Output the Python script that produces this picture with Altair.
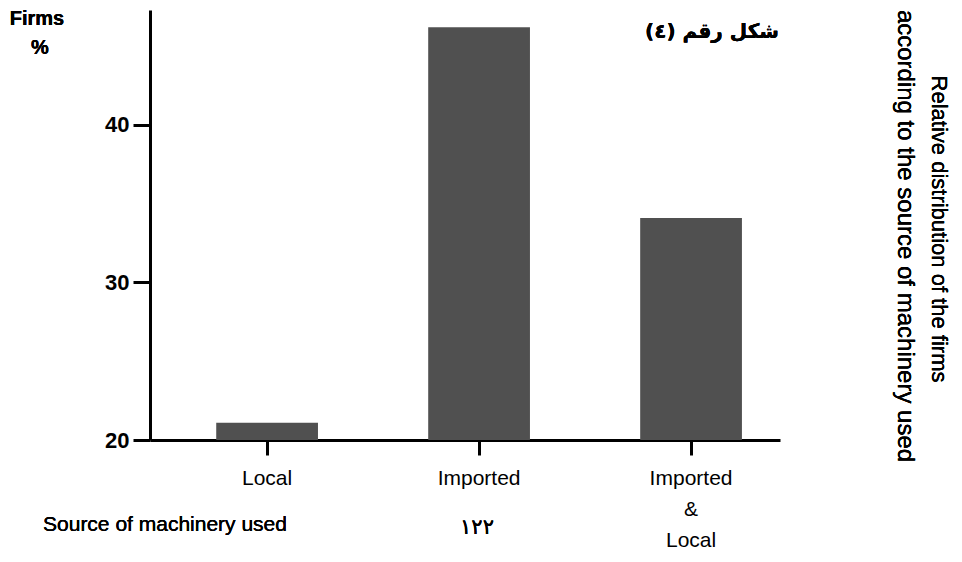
import altair as alt
import pandas as pd

categories = ["Local", "Imported", "Imported & Local"]
values = [21.1, 46.2, 34.1]
y_ticks = [20, 30, 40]

df = pd.DataFrame({"source": categories, "pct": values})

FONT = "Liberation Sans"

bars = alt.Chart(df).mark_bar(color="#505050").encode(
    x=alt.X(
        "source:N",
        sort=categories,
        scale=alt.Scale(paddingInner=0.52, paddingOuter=0.246, align=0.635),
        axis=alt.Axis(
            title=None,
            labelAngle=0,
            labelFont=FONT,
            labelFontSize=21,
            labelColor="black",
            labelBaseline="top",
            labelPadding=12,
            labelLineHeight=31,
            labelExpr="datum.label == 'Imported & Local' ? ['Imported', '&', 'Local'] : datum.label",
            tickSize=15,
            tickWidth=3,
            tickColor="black",
            domainWidth=3,
            domainColor="black",
        ),
    ),
    y=alt.Y(
        "pct:Q",
        scale=alt.Scale(domain=[20, 47.3], zero=False, nice=False),
        axis=alt.Axis(
            title=None,
            values=y_ticks,
            grid=False,
            labelFont=FONT,
            labelFontSize=22,
            labelFontWeight="bold",
            labelColor="black",
            labelPadding=4,
            tickSize=17,
            tickWidth=3,
            tickColor="black",
            domainWidth=3,
            domainColor="black",
        ),
    ),
    y2=alt.datum(20),
)

def txt(text, x, y, size=17, weight="normal", font=FONT, angle=0, align="center"):
    return alt.Chart(df).mark_text(
        text=text,
        font=font,
        fontSize=size,
        fontWeight=weight,
        angle=angle,
        align=align,
        baseline="middle",
        color="black",
    ).encode(x=alt.value(x), y=alt.value(y))

annotations = [
    txt("Firms", -113, 9, size=20, weight="bold"),
    txt("%", -110, 38, size=20, weight="bold"),
    txt("شكل رقم (٤)", 562, 22, size=20, weight="bold", font="DejaVu Sans"),
    txt("Source of machinery used", 15, 515, size=21),
    txt("١٢٢", 327, 518, size=21, font="DejaVu Sans"),
    txt("Relative distribution of the firms", 789, 219, size=22, angle=90),
    txt("according to the source of machinery used", 755, 226, size=24, angle=90),
]

chart = alt.layer(bars, *annotations).properties(
    width=630,
    height=430,
    padding={"left": 142, "top": 2, "right": 172, "bottom": 114},
    autosize=alt.AutoSizeParams(type="none"),
    background="white",
).configure_view(stroke=None)

chart.save("out.html", embed_options={"renderer": "svg", "actions": False})
